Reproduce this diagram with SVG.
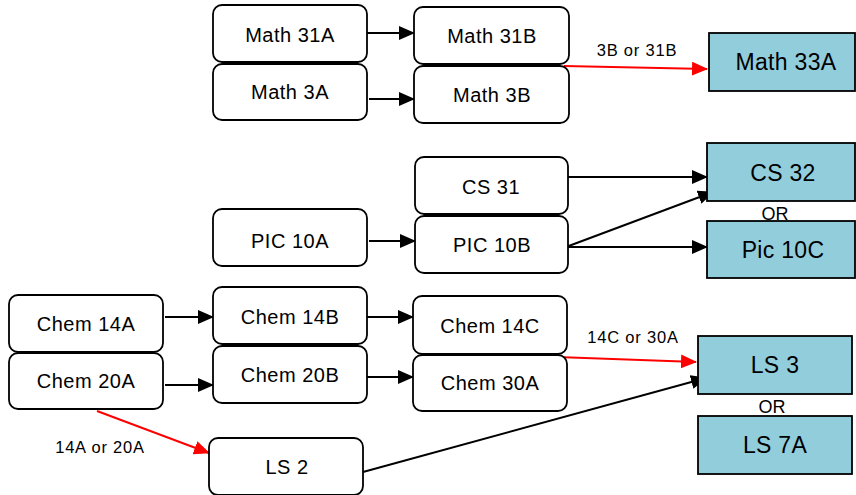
<svg xmlns="http://www.w3.org/2000/svg" width="856" height="495" viewBox="0 0 856 495">
<style>
.n{fill:#fff;stroke:#000;stroke-width:1.8}
.b{fill:#92CDDC;stroke:#000;stroke-width:1.8}
text{font-family:"Liberation Sans",Arial,sans-serif;fill:#000;text-anchor:middle}
.t{font-size:20px;letter-spacing:0.5px}
.tb{font-size:23px;letter-spacing:0.3px}
.s{font-size:16.5px;letter-spacing:0.8px}
.o{font-size:18px}
.c{fill:none;stroke:#000;stroke-width:2}
.r{fill:none;stroke:#f00;stroke-width:2}
</style>
<defs>
<marker id="ah" markerUnits="userSpaceOnUse" markerWidth="16" markerHeight="14" refX="15" refY="7" orient="auto"><path d="M0,0 L16,7 L0,14 Z" fill="#000"/></marker>
<marker id="ahr" markerUnits="userSpaceOnUse" markerWidth="16" markerHeight="14" refX="15" refY="7" orient="auto"><path d="M0,0 L16,7 L0,14 Z" fill="#f00"/></marker>
</defs>
<g id="connectors">
<line class="c" x1="367" y1="33" x2="414" y2="33" marker-end="url(#ah)"/>
<line class="c" x1="369" y1="99" x2="414" y2="99" marker-end="url(#ah)"/>
<line class="r" x1="564" y1="66" x2="707" y2="69" marker-end="url(#ahr)"/>
<line class="c" x1="568" y1="177" x2="707" y2="177" marker-end="url(#ah)"/>
<line class="c" x1="566" y1="247" x2="713" y2="192" marker-end="url(#ah)"/>
<line class="c" x1="566" y1="247" x2="707" y2="247" marker-end="url(#ah)"/>
<line class="c" x1="369" y1="241" x2="415" y2="241" marker-end="url(#ah)"/>
<line class="c" x1="165" y1="317" x2="213" y2="317" marker-end="url(#ah)"/>
<line class="c" x1="165" y1="385" x2="213" y2="385" marker-end="url(#ah)"/>
<line class="c" x1="367" y1="317" x2="413" y2="317" marker-end="url(#ah)"/>
<line class="c" x1="367" y1="377" x2="413" y2="377" marker-end="url(#ah)"/>
<line class="r" x1="97" y1="411" x2="209" y2="453" marker-end="url(#ahr)"/>
<line class="r" x1="557" y1="357" x2="696" y2="362" marker-end="url(#ahr)"/>
<line class="c" x1="363" y1="472" x2="706" y2="378" marker-end="url(#ah)"/>
<text class="s" x="637" y="56">3B or 31B</text>
<text class="s" x="100" y="453">14A or 20A</text>
<text class="s" x="633" y="343">14C or 30A</text>
</g>
<g id="math31a"><rect class="n" x="213" y="5" width="154" height="57" rx="9"/><text class="t" x="290" y="42">Math 31A</text></g>
<g id="math3a"><rect class="n" x="213" y="64" width="154" height="56" rx="9"/><text class="t" x="290" y="99">Math 3A</text></g>
<g id="math31b"><rect class="n" x="414" y="7" width="155" height="57" rx="9"/><text class="t" x="492" y="43">Math 31B</text></g>
<g id="math3b"><rect class="n" x="414" y="66" width="155" height="57" rx="9"/><text class="t" x="492" y="102">Math 3B</text></g>
<g id="math33a"><rect class="b" x="709" y="33" width="146" height="58"/><text class="tb" x="786" y="70">Math 33A</text></g>
<g id="cs31"><rect class="n" x="415" y="157" width="153" height="57" rx="9"/><text class="t" x="491" y="194">CS 31</text></g>
<g id="pic10b"><rect class="n" x="415" y="216" width="153" height="57" rx="9"/><text class="t" x="492" y="252">PIC 10B</text></g>
<g id="pic10a"><rect class="n" x="213" y="209" width="154" height="57" rx="9"/><text class="t" x="290" y="248">PIC 10A</text></g>
<g id="cs32"><rect class="b" x="707" y="143" width="148" height="58"/><text class="tb" x="783" y="181">CS 32</text></g>
<g id="or1"><text class="o" x="775" y="220">OR</text></g>
<g id="pic10c"><rect class="b" x="707" y="221" width="148" height="57"/><text class="tb" x="783" y="258">Pic 10C</text></g>
<g id="chem14a"><rect class="n" x="9" y="295" width="154" height="57" rx="9"/><text class="t" x="86" y="331">Chem 14A</text></g>
<g id="chem20a"><rect class="n" x="9" y="353" width="154" height="56" rx="9"/><text class="t" x="86" y="388">Chem 20A</text></g>
<g id="chem14b"><rect class="n" x="213" y="287" width="154" height="57" rx="9"/><text class="t" x="290" y="324">Chem 14B</text></g>
<g id="chem20b"><rect class="n" x="213" y="346" width="154" height="57" rx="9"/><text class="t" x="290" y="382">Chem 20B</text></g>
<g id="chem14c"><rect class="n" x="413" y="296" width="154" height="58" rx="9"/><text class="t" x="490" y="333">Chem 14C</text></g>
<g id="chem30a"><rect class="n" x="413" y="355" width="154" height="56" rx="9"/><text class="t" x="490" y="390">Chem 30A</text></g>
<g id="ls2"><rect class="n" x="209" y="438" width="154" height="57" rx="9"/><text class="t" x="287" y="474">LS 2</text></g>
<g id="ls3"><rect class="b" x="698" y="336" width="154" height="58"/><text class="tb" x="775" y="373">LS 3</text></g>
<g id="or2"><text class="o" x="772" y="413">OR</text></g>
<g id="ls7a"><rect class="b" x="698" y="416" width="154" height="58"/><text class="tb" x="775" y="453">LS 7A</text></g>
</svg>
